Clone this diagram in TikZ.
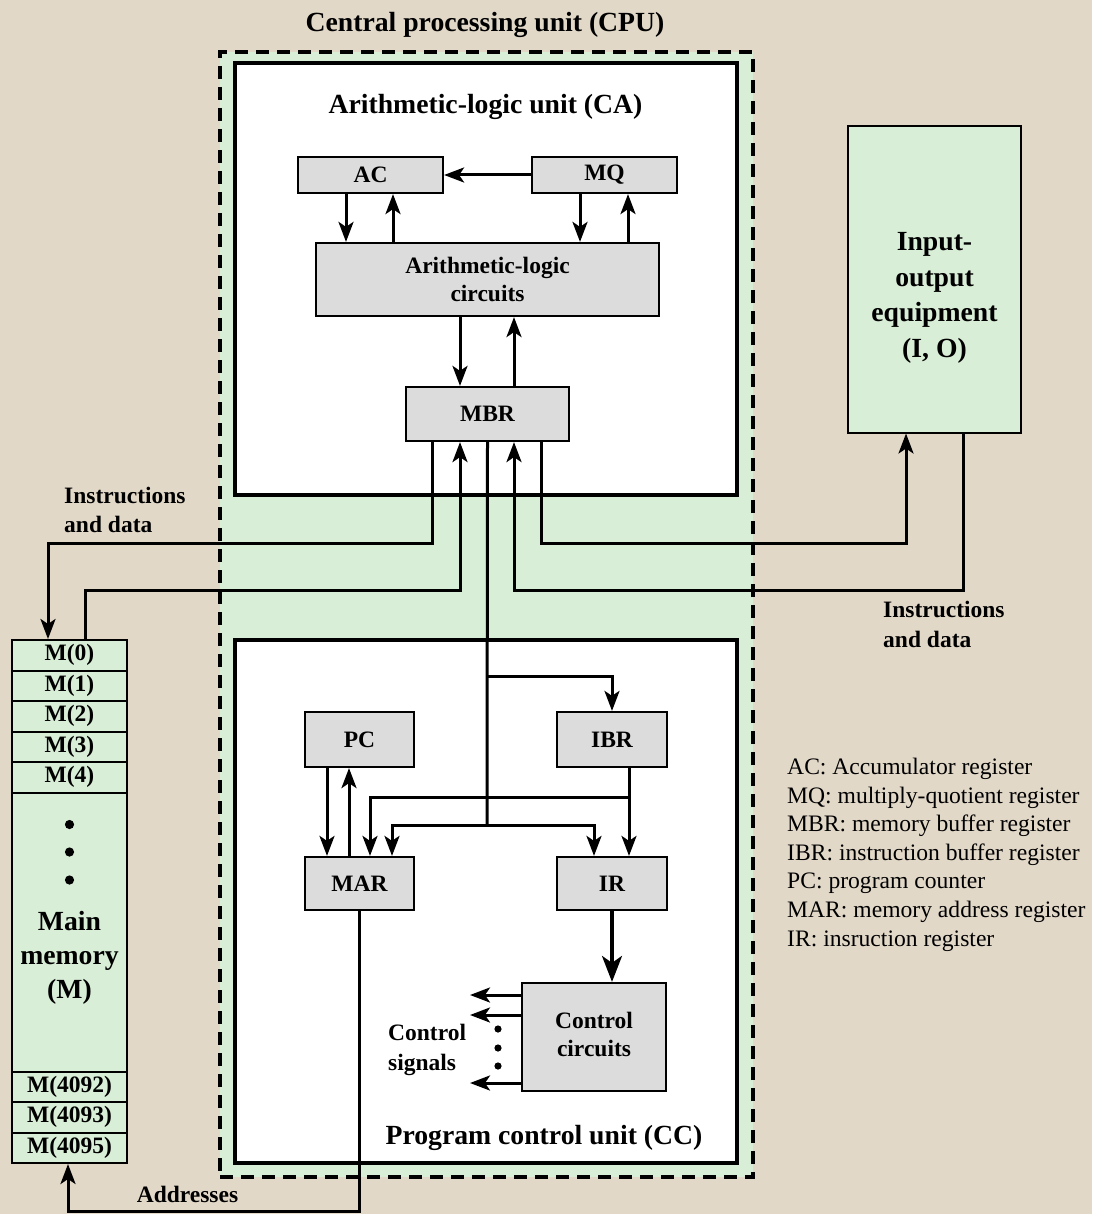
\documentclass[tikz,border=0pt]{standalone}
\usepackage{fontspec}
\setmainfont{Liberation Serif}
\usetikzlibrary{arrows.meta,calc}
\definecolor{paper}{RGB}{226,216,200}
\definecolor{cpugreen}{RGB}{217,238,215}
\definecolor{reggray}{RGB}{220,220,220}
\begin{document}
\begin{tikzpicture}[x=1pt,y=-1pt,
  lbl/.style={inner sep=0pt, font=\fontsize{23.5}{29.5}\selectfont\bfseries, align=left},
  ttl/.style={inner sep=0pt, font=\fontsize{27.7}{33.7}\selectfont\bfseries, align=center},
  keytext/.style={inner sep=0pt, font=\fontsize{23.6}{28.6}\selectfont, align=left},
  reg/.style={draw, line width=2.2pt, fill=reggray, inner sep=0pt, align=center,
    font=\fontsize{23.5}{27.5}\selectfont\bfseries},
  cell/.style={draw, line width=2pt, fill=cpugreen, inner sep=0pt,
    minimum width=115pt, font=\fontsize{23.5}{27.5}\selectfont\bfseries},
  unitbox/.style={draw, line width=4.5pt, fill=white, inner sep=0pt},
  cpubox/.style={draw, line width=4pt, dash pattern=on 13pt off 8pt, fill=cpugreen, inner sep=0pt},
  wire/.style={draw, line width=3pt},
  arr/.style={wire, -{Stealth[length=20pt, width=15pt, inset=5pt]}},
  bigarr/.style={wire, line width=3.4pt, -{Stealth[length=26pt, width=20pt, inset=7pt]}}
]
% page and background
\useasboundingbox (0,0) rectangle (1092,1214);
\fill[paper] (0,0) rectangle (1092,1214);

% CPU with its two units
\node[cpubox, minimum width=533pt, minimum height=1125pt] (cpu) at (486.5,614.5) {};
\node[ttl, anchor=base] (cputitle) at (485,32) {Central processing unit (CPU)};
\node[unitbox, minimum width=502pt, minimum height=432pt] (alu) at (486,279) {};
\node[unitbox, minimum width=502pt, minimum height=523pt] (ccu) at (486,901.5) {};
\node[ttl, anchor=base] (alutitle) at (485.5,114) {Arithmetic-logic unit (CA)};
\node[ttl, anchor=base] (ccutitle) at (544,1144) {Program control unit (CC)};

% arithmetic-logic unit registers
\node[reg, minimum width=145pt, minimum height=36pt] (ac) at (370.5,175) {AC};
\node[reg, minimum width=145pt, minimum height=36pt] (mq) at (604.5,175) {MQ};
\node[reg, minimum width=343pt, minimum height=73pt] (alc) at (487.5,279.5) {Arithmetic-logic\\circuits};
\node[reg, minimum width=163pt, minimum height=54pt] (mbr) at (487.5,414) {MBR};

% program control unit registers
\node[reg, minimum width=109pt, minimum height=55pt] (pc) at (359.5,739.5) {PC};
\node[reg, minimum width=110pt, minimum height=55pt] (ibr) at (612,739.5) {IBR};
\node[reg, minimum width=109pt, minimum height=53pt] (mar) at (359.5,883.5) {MAR};
\node[reg, minimum width=110pt, minimum height=53pt] (ir) at (612,883.5) {IR};
\node[reg, minimum width=144pt, minimum height=108pt, font=\fontsize{23.5}{29}\selectfont\bfseries] (ctl) at (594,1037) {\raisebox{3pt}{\begin{tabular}{@{}c@{}}Control\\[-1pt]circuits\end{tabular}}};

% input-output equipment
\node[draw, line width=2pt, fill=cpugreen, minimum width=173pt, minimum height=306pt, inner sep=0pt] (io) at (934.5,279.5) {};
\node[ttl, font=\fontsize{27.7}{35.5}\selectfont\bfseries] (iotext) at (934.5,298) {Input-\\output\\equipment\\(I, O)};

% main memory
\node[cell, minimum height=30.5pt] (m0) at (69.5,655.25) {M(0)};
\node[cell, minimum height=30.5pt] (m1) at (69.5,685.75) {M(1)};
\node[cell, minimum height=30.5pt] (m2) at (69.5,716.25) {M(2)};
\node[cell, minimum height=30.5pt] (m3) at (69.5,746.75) {M(3)};
\node[cell, minimum height=30.5pt] (m4) at (69.5,777.25) {M(4)};
\node[cell, minimum height=279pt] (mbody) at (69.5,932) {};
\node[cell, minimum height=30.5pt] (m4092) at (69.5,1086.75) {M(4092)};
\node[cell, minimum height=30.5pt] (m4093) at (69.5,1117.25) {M(4093)};
\node[cell, minimum height=30.5pt] (m4095) at (69.5,1147.75) {M(4095)};
\foreach \yy in {824.5,852,880} \fill (69.5,\yy) circle (4.6pt);
\node[ttl] (memtext) at (69.5,958) {Main\\memory\\(M)};

% ALU internal paths
\draw[arr] (mq.west) -- (ac.east);
\draw[arr] (ac.south -| 346,0) -- (alc.north -| 346,0);
\draw[arr] (alc.north -| 393,0) -- (ac.south -| 393,0);
\draw[arr] (mq.south -| 580,0) -- (alc.north -| 580,0);
\draw[arr] (alc.north -| 628,0) -- (mq.south -| 628,0);
\draw[arr] (alc.south -| 460,0) -- (mbr.north -| 460,0);
\draw[arr] (mbr.north -| 514,0) -- (alc.south -| 514,0);

% MBR to and from memory and I/O
\draw[arr] (mbr.south -| 432,0) |- (48,543) -- (m0.north -| 48,0);
\draw[arr] (m0.north -| 85,0) |- (460,590) -- (mbr.south -| 460,0);
\draw[arr] (mbr.south -| 541,0) |- (906,543) -- (io.south -| 906,0);
\draw[arr] (io.south -| 963,0) |- (514,590) -- (mbr.south -| 514,0);

% MBR trunk into the program control unit
\coordinate (tibr) at (487,676);
\coordinate (tlow) at (487,825);
\draw[wire] (mbr.south) -- (tlow);
\draw[arr] (tibr) -| (ibr.north);
\draw[arr] (tlow) -| (mar.north -| 392,0);
\draw[arr] (tlow) -| (ir.north -| 594,0);
\draw[arr] (ibr.south -| 629,0) -- (ir.north -| 629,0);
\draw[arr] (ibr.south -| 629,0) |- (370,797) -- (mar.north -| 370,0);
\draw[arr] (pc.south -| 327,0) -- (mar.north -| 327,0);
\draw[arr] (mar.north -| 349,0) -- (pc.south -| 349,0);
\draw[bigarr] (ir.south) -- (ctl.north -| ir.south);

% control signals
\draw[arr] (ctl.west |- 0,995) -- (470,995);
\draw[arr] (ctl.west |- 0,1015) -- (470,1015);
\draw[arr] (ctl.west |- 0,1083) -- (470,1083);
\foreach \yy in {1029,1048,1066} \fill (498,\yy) circle (3.6pt);
\node[lbl, anchor=west] (sigtext) at (388,1050) {Control\\signals};

% addresses from MAR to memory
\draw[arr] (mar.south) |- (68,1211) -- (m4095.south -| 68,0);
\node[lbl, anchor=base] (addrtext) at (187.5,1202) {Addresses};

% data path labels
\node[lbl, anchor=west] (memdata) at (64,510) {Instructions\\and data};
\node[lbl, anchor=west] (iodata) at (883,624.5) {Instructions\\and data};

% register key
\node[keytext, anchor=north west] (legend) at (787,758) {AC: Accumulator register\\MQ: multiply-quotient register\\MBR: memory buffer register\\IBR: instruction buffer register\\PC: program counter\\MAR: memory address register\\IR: insruction register};
\end{tikzpicture}
\end{document}
